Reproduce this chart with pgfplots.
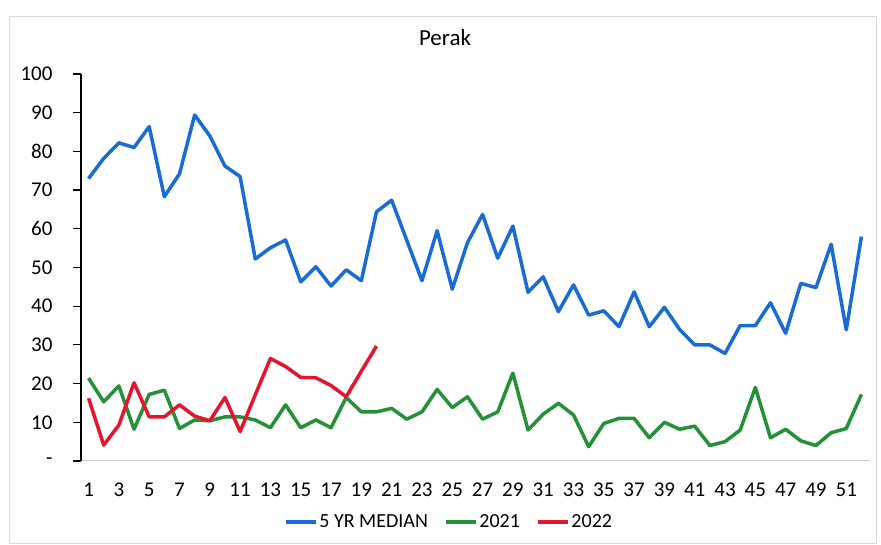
\documentclass[border=0pt]{standalone}
\usepackage{fontspec}
\setmainfont{Carlito}
\usepackage{pgfplots}
\pgfplotsset{compat=1.18}
\definecolor{cblue}{RGB}{25,108,212}
\definecolor{cgreen}{RGB}{35,145,55}
\definecolor{cred}{RGB}{230,20,45}
\begin{document}
\begin{tikzpicture}
\path[use as bounding box] (0pt,0pt) rectangle (881pt,545pt);
\draw[gray!30, line width=0.8pt] (9pt,2pt) rectangle (876pt,529pt);
\node[font=\fontsize{23}{27}\selectfont] at (445pt,507pt) {Perak};
\begin{axis}[
  at={(81pt,84pt)}, anchor=south west, scale only axis,
  width=788pt, height=387pt,
  xmin=0.5, xmax=52.5, ymin=0, ymax=100,
  axis lines*=left,
  x axis line style={gray!40, line width=1pt},
  y axis line style={black, line width=1.2pt},
  xtick={1,3,...,51},
  ytick={0,10,...,100},
  yticklabels={{-\hspace{0.3em}},10,20,30,40,50,60,70,80,90,100},
  tick label style={font=\fontsize{21}{25}\selectfont},
  /pgf/number format/assume math mode=true,
  xtick style={draw=none},
  ytick style={black, line width=1.2pt},
  tick align=outside, major tick length=8pt,
  xticklabel style={anchor=base, yshift=-28pt},
  yticklabel style={anchor=east, xshift=-17pt},
  legend columns=3,
  legend style={at={(0.467,-0.158)}, anchor=center, draw=none, fill=none,
    font=\fontsize{20}{24}\selectfont,
    /tikz/every even column/.append style={column sep=14pt},
    nodes={inner sep=2pt}},
  legend image code/.code={\draw[#1] (0pt,0pt) -- (30pt,0pt);},
]
\addplot[cblue, line width=3.5pt, line join=round] coordinates {
(1,73.0) (2,78.2) (3,82.2) (4,81.0) (5,86.4) (6,68.3) (7,74.2) (8,89.4) (9,84.0) (10,76.2)
(11,73.5) (12,52.2) (13,55.1) (14,57.1) (15,46.3) (16,50.2) (17,45.2) (18,49.4) (19,46.6) (20,64.4)
(21,67.4) (22,57.0) (23,46.6) (24,59.5) (25,44.4) (26,56.4) (27,63.7) (28,52.4) (29,60.7) (30,43.6)
(31,47.6) (32,38.6) (33,45.5) (34,37.7) (35,38.8) (36,34.7) (37,43.7) (38,34.7) (39,39.7) (40,34.0)
(41,30.0) (42,30.0) (43,27.8) (44,35.0) (45,35.0) (46,40.9) (47,33.0) (48,45.9) (49,44.8) (50,56.0)
(51,33.9) (52,58.0)};
\addlegendentry{5 YR MEDIAN}
\addplot[cgreen, line width=3.5pt, line join=round] coordinates {
(1,21.4) (2,15.3) (3,19.4) (4,8.2) (5,17.2) (6,18.3) (7,8.4) (8,10.6) (9,10.4) (10,11.4)
(11,11.4) (12,10.6) (13,8.6) (14,14.5) (15,8.6) (16,10.6) (17,8.6) (18,16.4) (19,12.7) (20,12.7)
(21,13.6) (22,10.8) (23,12.7) (24,18.5) (25,13.8) (26,16.6) (27,10.8) (28,12.7) (29,22.7) (30,8.0)
(31,12.1) (32,14.9) (33,11.9) (34,3.7) (35,9.7) (36,11.0) (37,11.0) (38,6.0) (39,10.0) (40,8.2)
(41,9.0) (42,4.0) (43,5.0) (44,8.0) (45,19.0) (46,6.0) (47,8.2) (48,5.2) (49,4.0) (50,7.3)
(51,8.4) (52,17.2)};
\addlegendentry{2021}
\addplot[cred, line width=3.5pt, line join=round] coordinates {
(1,16.2) (2,4.1) (3,9.3) (4,20.2) (5,11.4) (6,11.4) (7,14.5) (8,11.6) (9,10.4) (10,16.4)
(11,7.6) (12,17.1) (13,26.5) (14,24.4) (15,21.6) (16,21.5) (17,19.5) (18,16.6) (19,23.2) (20,29.7)};
\addlegendentry{2022}
\end{axis}
\end{tikzpicture}
\end{document}
